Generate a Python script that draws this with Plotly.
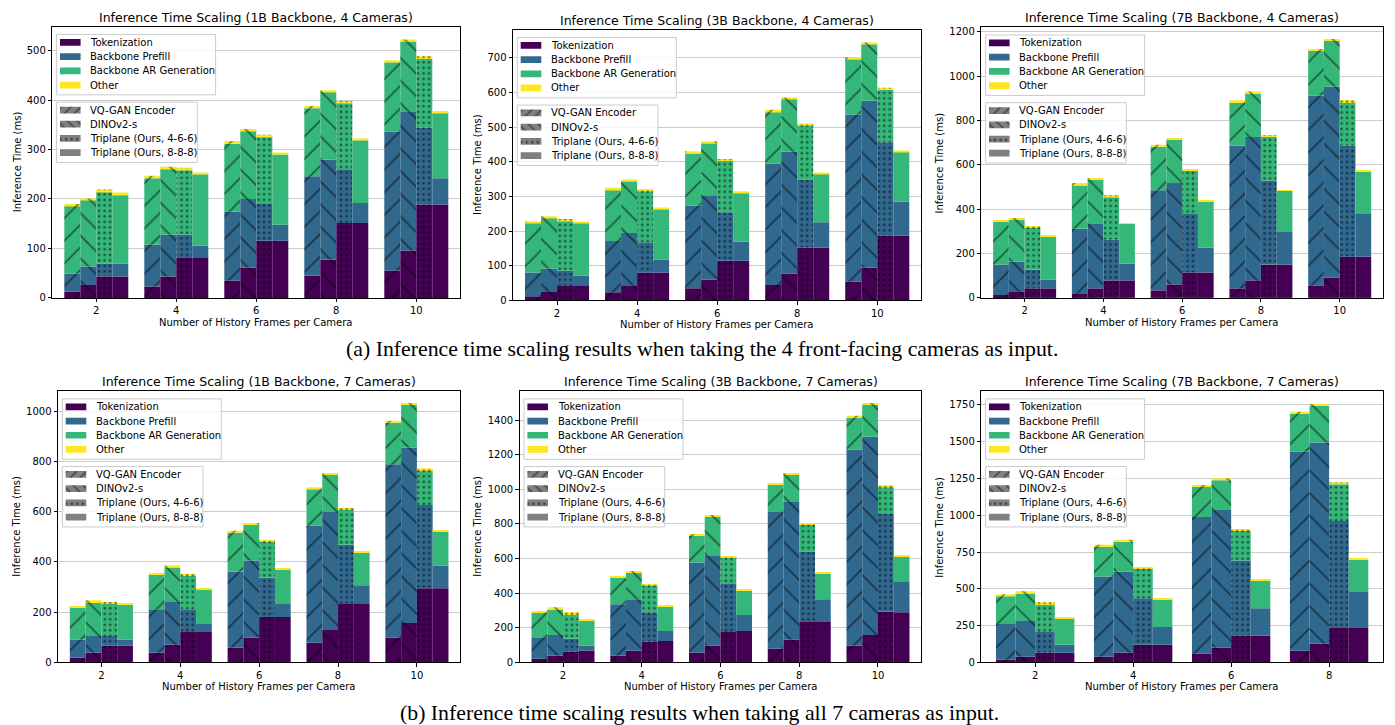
import numpy as np
import plotly.graph_objects as go

W, H = 1395, 725

# ---------------- data ----------------
COMPONENTS = ["Tokenization", "Backbone Prefill", "Backbone AR Generation", "Other"]
COMP_COLORS = ["#440154", "#31688e", "#35b779", "#fde725"]
VARIANTS = ["VQ-GAN Encoder", "DINOv2-s", "Triplane (Ours, 4-6-6)", "Triplane (Ours, 8-8-8)"]
VARIANT_HATCH = ["/", "\\", ".", ""]

FRAMES_10 = [2, 4, 6, 8, 10]
FRAMES_8 = [2, 4, 6, 8]

# Stacked bar tops (ms) per history-frame group:
# [Tokenization, +Backbone Prefill, +Backbone AR Generation, +Other]
B1_C4_VQGAN = [[13, 49.5, 186, 190], [23, 107.6, 242, 247], [35.4, 174, 312, 317.5], [45.5, 246, 383.7, 388], [55.5, 336, 476.6, 480.6]]
B1_C4_DINO = [[26, 63.5, 198.5, 201], [43.5, 127.7, 261, 265], [61.5, 200, 338, 341.5], [77.5, 280, 416.4, 420], [95.6, 376, 518.7, 522.7]]
B1_C4_TRI466 = [[43.5, 69.5, 215, 219], [80.5, 128, 259, 263], [115.6, 190, 326, 330], [151.7, 260, 394, 398], [189, 344, 483, 488.6]]
B1_C4_TRI888 = [[43.5, 69.5, 209, 213], [80.5, 105.6, 250, 253], [115.6, 147.7, 290, 294], [151.7, 192, 319, 322], [189, 242, 374, 378]]

B3_C4_VQGAN = [[12.3, 80.6, 223, 228.6], [23.7, 171.7, 319.7, 325], [35, 274, 424, 430], [44.6, 394.7, 544.6, 550], [55, 536, 695.4, 701]]
B3_C4_DINO = [[24.7, 92, 239, 243], [43.6, 194.5, 343.5, 348], [60.7, 303.6, 453.5, 459], [77.8, 428.8, 581.6, 584.4], [94.9, 576, 739, 744]]
B3_C4_TRI466 = [[43.6, 86, 230.5, 235], [80.6, 168, 317, 321.6], [114.8, 254, 402, 408], [151.8, 348, 504.7, 510.4], [187, 456.4, 607, 613]]
B3_C4_TRI888 = [[43.6, 72, 223, 226], [80.6, 117.6, 263, 265.6], [114.8, 169, 311, 315], [151.8, 225.8, 366, 369], [187, 285.6, 428, 430.7]]

B7_C4_VQGAN = [[13.4, 150, 342, 346.5], [20.8, 312, 507, 517.5], [34, 484.8, 681, 690], [43, 687, 881.8, 890.7], [56.5, 913, 1113.8, 1122.7]]
B7_C4_DINO = [[26.8, 163.6, 352.4, 360], [43, 333, 535, 538], [61, 517.5, 712, 721], [78.8, 725.6, 922, 931], [92, 953, 1158, 1162.8]]
B7_C4_TRI466 = [[43, 128, 316.7, 324], [78.8, 261.7, 453.5, 462.5], [114.5, 377.7, 574, 578.4], [150, 529, 725.6, 730], [186, 685.5, 881.8, 890.7]]
B7_C4_TRI888 = [[43, 83, 276.6, 279.6], [78.8, 154.6, 333, 336], [114.5, 226, 435.7, 440], [150, 297.4, 481.8, 484.8], [186, 382, 569.5, 574]]

B1_C7_VQGAN = [[18.4, 89.6, 220, 224], [38, 212, 350.5, 354.4], [58, 362, 516, 524], [77.7, 544, 690, 698], [97.5, 789, 955, 963]]
B1_C7_DINO = [[38, 105, 240, 247.7], [70, 243.7, 378, 386], [97.5, 405.8, 548, 552], [129, 599.5, 749.7, 753.6], [156.8, 856.4, 1026, 1030]]
B1_C7_TRI466 = [[66, 105, 236, 240], [121, 212, 346.5, 350.5], [180.5, 338.6, 481, 488.8], [235.8, 469, 611, 615], [295, 627, 765.5, 773.4]]
B1_C7_TRI888 = [[66, 89.6, 232, 236], [121, 153, 291, 295], [180.5, 232, 370, 374], [235.8, 307, 437.4, 441.4], [295, 386, 520, 524]]

B3_C7_VQGAN = [[21, 141, 288.4, 296], [38, 336, 491, 496.6], [55.4, 576.8, 731.5, 739], [78.3, 869, 1029.4, 1035], [97.4, 1230, 1413, 1424.7]]
B3_C7_DINO = [[38, 158.5, 307.5, 319], [66.8, 364.8, 519.5, 525], [97.4, 615, 840, 851.8], [131.8, 926, 1086.7, 1092.4], [158.5, 1304, 1487.8, 1493.5]]
B3_C7_TRI466 = [[61, 135.6, 279, 290], [118.4, 290, 445, 450.7], [175.7, 456.4, 605.4, 611], [233, 640, 794.5, 800], [293, 857.5, 1012, 1023.7]]
B3_C7_TRI888 = [[66.8, 95.5, 244.5, 250], [124, 181.4, 324.7, 330.4], [181.4, 273, 416.3, 422], [233, 364.8, 513.7, 519.5], [290, 468, 611, 617]]

B7_C7_VQGAN = [[18, 260.6, 449.4, 463], [38, 584, 786.5, 800], [58.4, 988.8, 1197.8, 1204.5], [78.7, 1433.7, 1690, 1703.4]]
B7_C7_DINO = [[38, 281, 469.7, 483], [65, 618, 820, 833.7], [99, 1036, 1238, 1251.7], [125.8, 1494, 1743.8, 1757.3]]
B7_C7_TRI466 = [[65, 206.7, 395.5, 409], [119, 436, 638, 645], [180, 692, 894, 901], [233.7, 961.8, 1211, 1224.7]]
B7_C7_TRI888 = [[65, 119, 301, 308], [119, 240.4, 429, 436], [180, 368.5, 557, 564], [233.7, 483, 698.9, 705.6]]

TITLES = [
    "Inference Time Scaling (1B Backbone, 4 Cameras)",
    "Inference Time Scaling (3B Backbone, 4 Cameras)",
    "Inference Time Scaling (7B Backbone, 4 Cameras)",
    "Inference Time Scaling (1B Backbone, 7 Cameras)",
    "Inference Time Scaling (3B Backbone, 7 Cameras)",
    "Inference Time Scaling (7B Backbone, 7 Cameras)",
]
Y_TICKS = [
    [0, 100, 200, 300, 400, 500],
    [0, 100, 200, 300, 400, 500, 600, 700],
    [0, 200, 400, 600, 800, 1000, 1200],
    [0, 200, 400, 600, 800, 1000],
    [0, 200, 400, 600, 800, 1000, 1200, 1400],
    [0, 250, 500, 750, 1000, 1250, 1500, 1750],
]
CAPTION_A = "(a) Inference time scaling results when taking the 4 front-facing cameras as input."
CAPTION_B = "(b) Inference time scaling results when taking all 7 cameras as input."
X_TITLE = "Number of History Frames per Camera"
Y_TITLE = "Inference Time (ms)"

PANEL_DATA = [
    (FRAMES_10, [B1_C4_VQGAN, B1_C4_DINO, B1_C4_TRI466, B1_C4_TRI888]),
    (FRAMES_10, [B3_C4_VQGAN, B3_C4_DINO, B3_C4_TRI466, B3_C4_TRI888]),
    (FRAMES_10, [B7_C4_VQGAN, B7_C4_DINO, B7_C4_TRI466, B7_C4_TRI888]),
    (FRAMES_10, [B1_C7_VQGAN, B1_C7_DINO, B1_C7_TRI466, B1_C7_TRI888]),
    (FRAMES_10, [B3_C7_VQGAN, B3_C7_DINO, B3_C7_TRI466, B3_C7_TRI888]),
    (FRAMES_8, [B7_C7_VQGAN, B7_C7_DINO, B7_C7_TRI466, B7_C7_TRI888]),
]

# ---------------- layout geometry (pixels) ----------------
PANEL_BOX = [  # left, top, right, bottom
    (44.3, 17.7, 452.3, 291.7),
    (505.0, 20.7, 913.3, 294.3),
    (973.3, 18.3, 1375.0, 291.7),
    (50.0, 385.7, 452.3, 659.7),
    (511.7, 385.7, 913.3, 659.7),
    (973.3, 385.7, 1375.0, 659.7),
]
YTITLE_X = [9, 470, 932, 9, 470, 932]
BAR_OFFSETS = [-0.3, -0.1, 0.1, 0.3]
BAR_W = 0.2

FONT = "DejaVu Sans"
TICK_SIZE = 10
TITLE_SIZE = 12.5
LEG_GRAY = "#808080"
CAPTION_FONT = "Liberation Serif"
CAPTION_SIZE = 21.8


def pattern_for(shape, legend=False):
    if shape == "":
        return dict(shape="")
    if shape == ".":
        return dict(shape=".", fgcolor="black", fillmode="overlay", size=5.5, solidity=0.2)
    return dict(shape=shape, fgcolor="black", fillmode="overlay",
                size=7 if legend else 16, solidity=0.2 if legend else 0.1)


fig = go.Figure()
layout = {}
shapes = []
annotations = []


def px_x(x):
    return x / W


def px_y(y):
    return 1 - y / H


for k, ((frames, variants), (l, t, r, b)) in enumerate(zip(PANEL_DATA, PANEL_BOX), start=1):
    xa = "x" if k == 1 else f"x{k}"
    ya = "y" if k == 1 else f"y{k}"
    n = len(frames)
    xmin, xmax = -0.55, n - 0.45
    ymax = 1.05 * max(row[-1] for v in variants for row in v)
    sx = (r - l) / (xmax - xmin)
    sy = (b - t) / ymax

    def dx(px):
        return xmin + (px - l) / sx

    def dy(py):
        return (b - py) / sy

    # data bars
    for vi, tops in enumerate(variants):
        tops = np.array(tops, dtype=float)
        bottoms = np.hstack([np.zeros((n, 1)), tops[:, :-1]])
        heights = tops - bottoms
        xs = np.arange(n) + BAR_OFFSETS[vi]
        for ci in range(4):
            fig.add_trace(go.Bar(
                x=xs, y=heights[:, ci], base=bottoms[:, ci], width=BAR_W,
                marker=dict(color=COMP_COLORS[ci], line=dict(width=0),
                            pattern=pattern_for(VARIANT_HATCH[vi])),
                xaxis=xa, yaxis=ya, showlegend=False, hoverinfo="skip",
                name=f"{VARIANTS[vi]} - {COMPONENTS[ci]}"))

    # legends (manual)
    box_l = l + 4.3
    box1_t = t + 8.0
    box2_t = box1_t + 68.3
    item_gap = 14.35
    for (bt, bw, labels, colors, hatches) in [
        (box1_t, 159.0, COMPONENTS, COMP_COLORS, ["", "", "", ""]),
        (box2_t, 140.7, VARIANTS, [LEG_GRAY] * 4, VARIANT_HATCH),
    ]:
        shapes.append(dict(type="rect", xref=xa, yref=ya, layer="between",
                           x0=dx(box_l), x1=dx(box_l + bw), y0=dy(bt + 61), y1=dy(bt),
                           fillcolor="rgba(255,255,255,0.8)", line=dict(color="#cccccc", width=1)))
        for i, lab in enumerate(labels):
            cy = bt + 8.0 + i * item_gap
            x0p, x1p = box_l + 3.4, box_l + 24.0
            fig.add_trace(go.Bar(
                x=[(dx(x0p) + dx(x1p)) / 2], y=[dy(cy - 3.4) - dy(cy + 3.4)], base=[dy(cy + 3.4)],
                width=[dx(x1p) - dx(x0p)],
                marker=dict(color=colors[i], line=dict(width=0), pattern=pattern_for(hatches[i], legend=True)),
                xaxis=xa, yaxis=ya, showlegend=False, hoverinfo="skip", name=lab))
            annotations.append(dict(text=lab, xref="paper", yref="paper", x=px_x(box_l + 31.5), y=px_y(cy),
                                    xanchor="left", yanchor="middle", showarrow=False,
                                    font=dict(family=FONT, size=TICK_SIZE, color="black")))

    axis_common = dict(showline=True, mirror=True, linecolor="black", linewidth=1,
                       ticks="outside", ticklen=3.5, tickwidth=1, tickcolor="black",
                       tickfont=dict(family=FONT, size=TICK_SIZE, color="black"),
                       zeroline=False, fixedrange=True)
    layout["xaxis" if k == 1 else f"xaxis{k}"] = dict(
        domain=[px_x(l), px_x(r)], anchor=ya, range=[xmin, xmax],
        tickmode="array", tickvals=list(range(n)), ticktext=[str(f) for f in frames],
        showgrid=False, **axis_common)
    layout["yaxis" if k == 1 else f"yaxis{k}"] = dict(
        domain=[px_y(b), px_y(t)], anchor=xa, range=[0, ymax],
        tickmode="array", tickvals=Y_TICKS[k - 1],
        showgrid=True, gridcolor="#cccccc", gridwidth=1, **axis_common)

    # titles
    annotations.append(dict(text=TITLES[k - 1], xref="paper", yref="paper",
                            x=px_x((l + r) / 2), y=px_y(t - 9.5), xanchor="center", yanchor="middle",
                            showarrow=False, font=dict(family=FONT, size=TITLE_SIZE, color="black")))
    annotations.append(dict(text=X_TITLE, xref="paper", yref="paper",
                            x=px_x((l + r) / 2), y=px_y(b + 24.5), xanchor="center", yanchor="middle",
                            showarrow=False, font=dict(family=FONT, size=TICK_SIZE, color="black")))
    annotations.append(dict(text=Y_TITLE, xref="paper", yref="paper", textangle=-90,
                            x=px_x(YTITLE_X[k - 1]), y=px_y((t + b) / 2), xanchor="center", yanchor="middle",
                            showarrow=False, font=dict(family=FONT, size=TICK_SIZE, color="black")))

annotations.append(dict(text=CAPTION_A, xref="paper", yref="paper", x=px_x(694), y=px_y(343),
                        xanchor="center", yanchor="middle", showarrow=False,
                        font=dict(family=CAPTION_FONT, size=CAPTION_SIZE, color="black")))
annotations.append(dict(text=CAPTION_B, xref="paper", yref="paper", x=px_x(691), y=px_y(711),
                        xanchor="center", yanchor="middle", showarrow=False,
                        font=dict(family=CAPTION_FONT, size=CAPTION_SIZE, color="black")))

fig.update_layout(
    width=W, height=H, autosize=False,
    margin=dict(l=0, r=0, t=0, b=0),
    paper_bgcolor="white", plot_bgcolor="white",
    barmode="overlay", showlegend=False,
    shapes=shapes, annotations=annotations,
    font=dict(family=FONT, color="black"),
    **layout,
)

fig.write_html("out.html")
